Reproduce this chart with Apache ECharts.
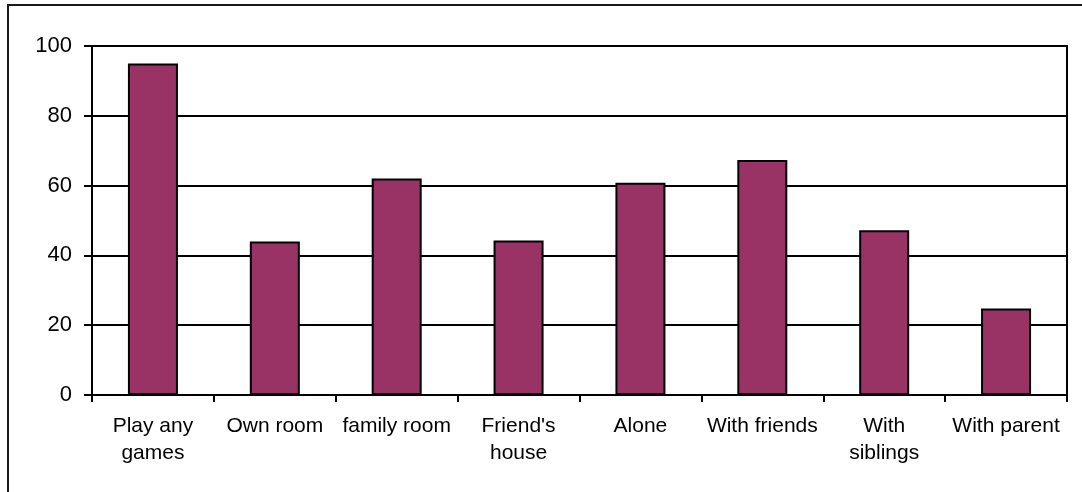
<!DOCTYPE html>
<html>
<head>
<meta charset="utf-8">
<script src="https://cdn.jsdelivr.net/npm/echarts@6/dist/echarts.min.js"></script>
<style>
  html, body { margin: 0; padding: 0; background: #fff; }
  #chart { width: 1082px; height: 492px; }
</style>
</head>
<body>
<div id="chart"></div>
<script>
var categories = ['Play any\ngames', 'Own room', 'family room', "Friend's\nhouse", 'Alone', 'With friends', 'With\nsiblings', 'With parent'];
var values = [95, 44, 62, 44.3, 60.8, 67.3, 47.2, 24.8];
var yTicks = [0, 20, 40, 60, 80, 100];

var chart = echarts.init(document.getElementById('chart'));

var option = {
  animation: false,
  backgroundColor: '#fff',
  graphic: [{
    type: 'rect',
    shape: { x: 8, y: 5, width: 1200, height: 600 },
    style: { fill: 'none', stroke: '#1a1a1a', lineWidth: 2 },
    silent: true
  }],
  grid: {
    left: 92, right: 15, top: 46, bottom: 97,
    show: true,
    borderColor: '#000',
    borderWidth: 2,
    backgroundColor: 'transparent'
  },
  xAxis: {
    type: 'category',
    data: categories,
    axisLine: { lineStyle: { color: '#000', width: 2 } },
    axisTick: { show: true, length: 7, lineStyle: { color: '#000', width: 2 } },
    axisLabel: {
      interval: 0,
      color: '#000',
      fontFamily: 'Liberation Sans, Arial, sans-serif',
      fontSize: 21,
      lineHeight: 27,
      margin: 18
    }
  },
  yAxis: {
    type: 'value',
    min: yTicks[0],
    max: yTicks[yTicks.length - 1],
    interval: 20,
    axisLine: { show: true, lineStyle: { color: '#000', width: 2 } },
    axisTick: { show: true, length: 8, lineStyle: { color: '#000', width: 2 } },
    axisLabel: {
      color: '#000',
      fontFamily: 'Liberation Sans, Arial, sans-serif',
      fontSize: 22,
      margin: 20
    },
    splitLine: { show: true, lineStyle: { color: '#000', width: 2 } }
  },
  series: [{
    type: 'bar',
    data: values,
    barWidth: 50,
    itemStyle: { color: '#993366', borderColor: '#000', borderWidth: 2 }
  }]
};

chart.setOption(option);
</script>
</body>
</html>
